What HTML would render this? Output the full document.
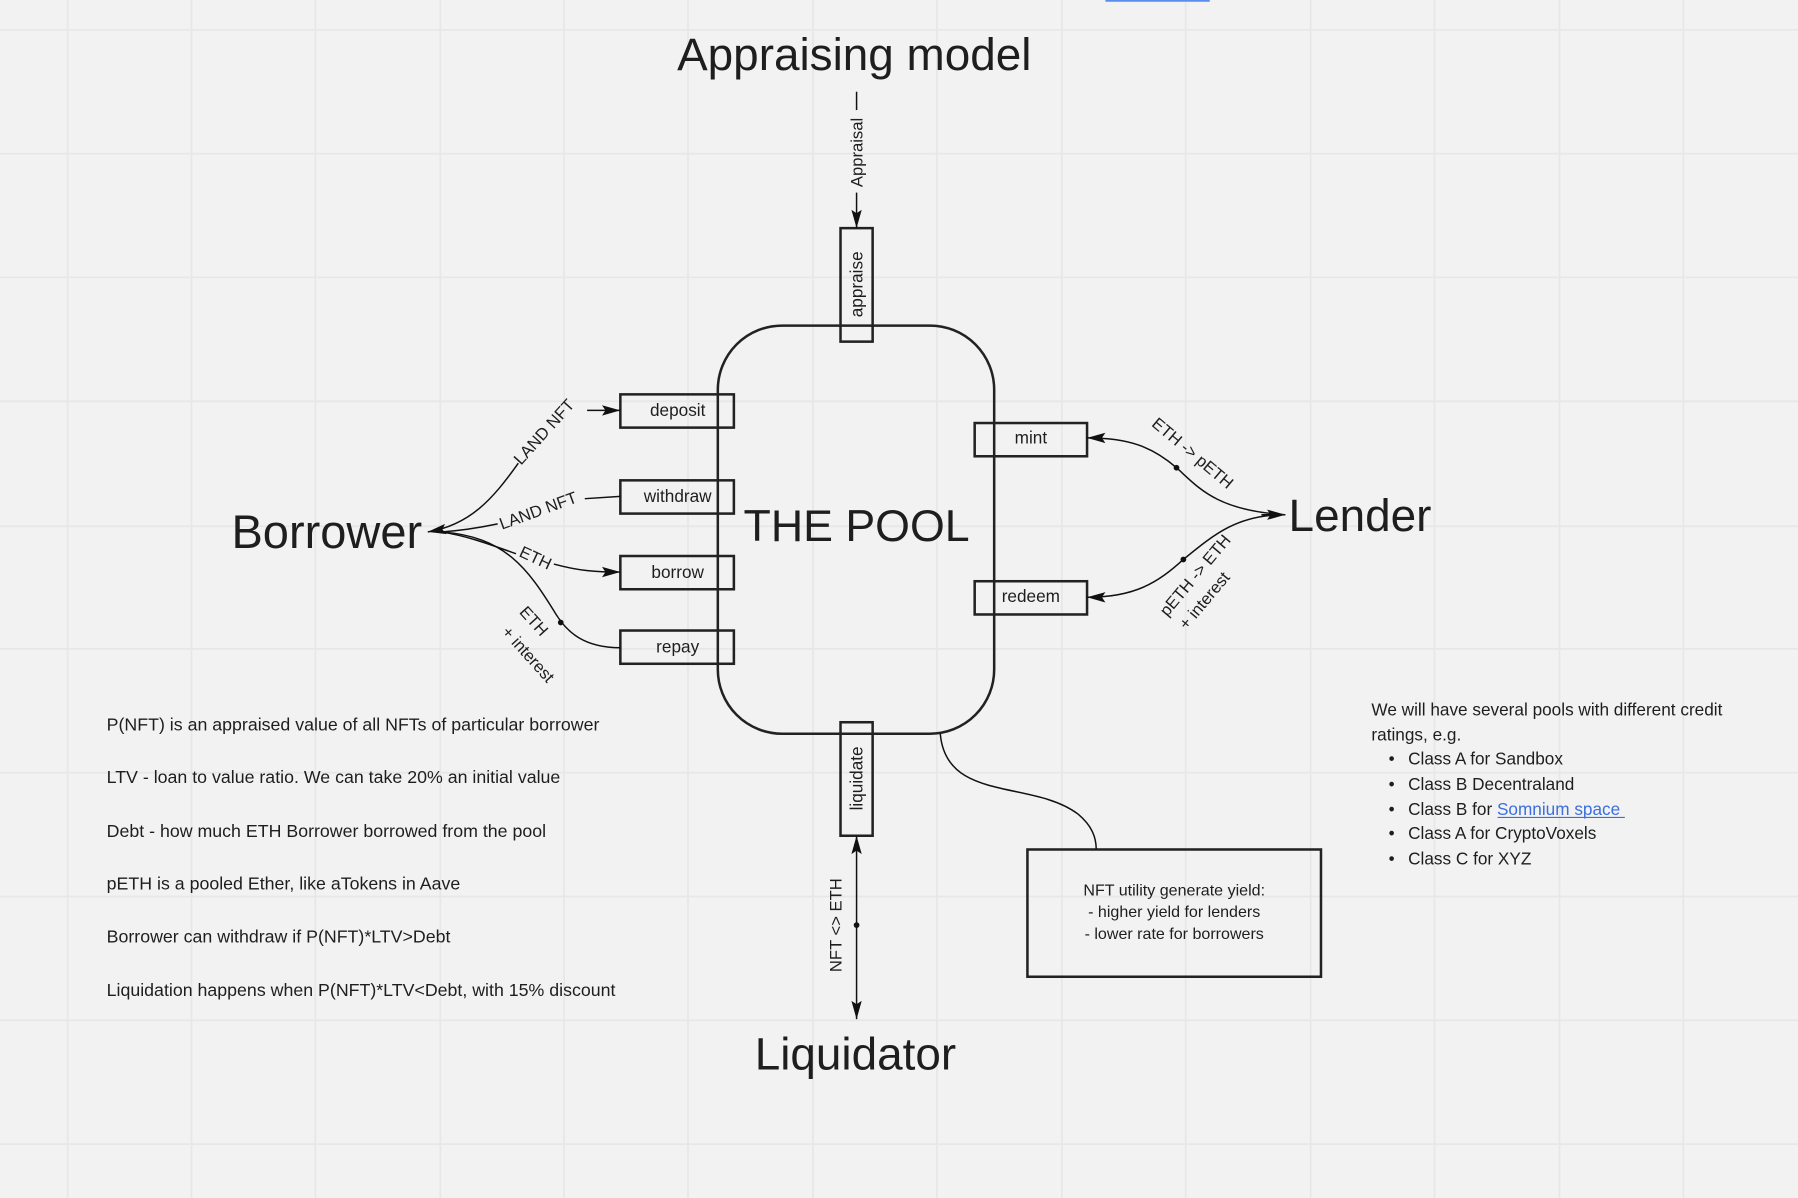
<!DOCTYPE html>
<html><head><meta charset="utf-8"><style>
html,body{margin:0;padding:0;background:#f2f2f2;}
svg{display:block;}
text{font-family:"Liberation Sans",sans-serif;fill:#1e1e1e;}
</style></head><body>
<svg width="1798" height="1198" viewBox="0 0 1568 1045" preserveAspectRatio="none" xmlns="http://www.w3.org/2000/svg">
<defs>
<marker id="a" viewBox="0 0 16 10" refX="16" refY="5" markerWidth="16" markerHeight="10" orient="auto-start-reverse" markerUnits="userSpaceOnUse"><path d="M0,0.5 L16,5 L0,9.5 L3,5 z" fill="#111"/></marker>
</defs>
<rect width="1568" height="1045" fill="#f2f2f2"/>
<g stroke="#e7e7e7" stroke-width="1.5">
<line x1="59" y1="0" x2="59" y2="1045"/><line x1="167" y1="0" x2="167" y2="1045"/><line x1="275" y1="0" x2="275" y2="1045"/><line x1="384" y1="0" x2="384" y2="1045"/><line x1="492" y1="0" x2="492" y2="1045"/><line x1="600" y1="0" x2="600" y2="1045"/><line x1="709" y1="0" x2="709" y2="1045"/><line x1="817" y1="0" x2="817" y2="1045"/><line x1="926" y1="0" x2="926" y2="1045"/><line x1="1034" y1="0" x2="1034" y2="1045"/><line x1="1143" y1="0" x2="1143" y2="1045"/><line x1="1251" y1="0" x2="1251" y2="1045"/><line x1="1360" y1="0" x2="1360" y2="1045"/><line x1="1468" y1="0" x2="1468" y2="1045"/>
<line x1="0" y1="26" x2="1568" y2="26"/><line x1="0" y1="134" x2="1568" y2="134"/><line x1="0" y1="242" x2="1568" y2="242"/><line x1="0" y1="350" x2="1568" y2="350"/><line x1="0" y1="459" x2="1568" y2="459"/><line x1="0" y1="566" x2="1568" y2="566"/><line x1="0" y1="674" x2="1568" y2="674"/><line x1="0" y1="782" x2="1568" y2="782"/><line x1="0" y1="890" x2="1568" y2="890"/><line x1="0" y1="998" x2="1568" y2="998"/>
</g>
<line x1="964" y1="0" x2="1055" y2="0" stroke="#5b8def" stroke-width="3"/>

<text x="745" y="61" font-size="40" text-anchor="middle">Appraising model</text>
<text x="285" y="478" font-size="41" text-anchor="middle">Borrower</text>
<text x="1186" y="463" font-size="40" text-anchor="middle">Lender</text>
<text x="746" y="933" font-size="40" text-anchor="middle">Liquidator</text>
<text x="747" y="472" font-size="39" text-anchor="middle">THE POOL</text>

<g fill="none" stroke="#222" stroke-width="2.2">
<rect x="626" y="284" width="241" height="356" rx="56"/>
<rect x="541" y="344" width="99" height="29"/>
<rect x="541" y="419" width="99" height="29"/>
<rect x="541" y="485" width="99" height="29"/>
<rect x="541" y="550" width="99" height="29"/>
<rect x="850" y="369" width="98" height="29"/>
<rect x="850" y="507" width="98" height="29"/>
<rect x="733" y="199" width="28" height="99"/>
<rect x="733" y="630" width="28" height="99"/>
<rect x="896" y="741" width="256" height="111"/>
</g>
<g font-size="15" text-anchor="middle">
<text x="591" y="363">deposit</text>
<text x="591" y="438">withdraw</text>
<text x="591" y="504">borrow</text>
<text x="591" y="569">repay</text>
<text x="899" y="387">mint</text>
<text x="899" y="525">redeem</text>
<text transform="translate(752,248) rotate(-90)">appraise</text>
<text transform="translate(752,679) rotate(-90)">liquidate</text>
</g>

<g fill="none" stroke="#111" stroke-width="1.3">
<path d="M452 404 C430 435 410 458 373 464" marker-end="url(#a)"/>
<path d="M512 358 L541 358" marker-end="url(#a)"/>
<path d="M541 433 L510 435"/>
<path d="M434 457 C415 461 400 463 385 464"/>
<path d="M385 464 C410 468 430 476 450 483"/>
<path d="M483 492 C505 498 520 499 541 499" marker-end="url(#a)"/>
<path d="M541 565 C510 565 495 552 485 536 C460 495 440 468 385 464"/>
<circle cx="489" cy="543" r="2.5" fill="#111" stroke="none"/>
<path d="M1120 449 C1060 445 1045 425 1026 408 C1005 390 985 382 948 382" marker-end="url(#a)"/>
<path d="M1120 449 C1080 449 1060 465 1032 488 C1010 508 990 521 948 521" marker-end="url(#a)"/>
<path d="M1100 449 L1121 449" marker-end="url(#a)"/>
<circle cx="1026" cy="408" r="2.5" fill="#111" stroke="none"/>
<circle cx="1032" cy="488" r="2.5" fill="#111" stroke="none"/>
<path d="M747 80 L747 96"/>
<path d="M747 168 L747 199" marker-end="url(#a)"/>
<path d="M747 807 L747 729" marker-end="url(#a)"/>
<path d="M747 807 L747 889" marker-end="url(#a)"/>
<circle cx="747" cy="807" r="2.5" fill="#111" stroke="none"/>
<path d="M820 640 C825 700 900 680 940 710 C952 720 956 730 956 741"/>
</g>
<g font-size="14.5">
<text transform="translate(478,380) rotate(-48)" text-anchor="middle">LAND NFT</text>
<text transform="translate(471,450) rotate(-20)" text-anchor="middle">LAND NFT</text>
<text transform="translate(465,491) rotate(25)" text-anchor="middle">ETH</text>
<text transform="translate(462,545) rotate(48)" text-anchor="middle">ETH</text>
<text transform="translate(457,574) rotate(48)" text-anchor="middle">+ interest</text>
<text transform="translate(1037,399) rotate(40)" text-anchor="middle">ETH -&gt; pETH</text>
<text transform="translate(1046,505) rotate(-50)" text-anchor="middle">pETH -&gt; ETH</text>
<text transform="translate(1054,527) rotate(-50)" text-anchor="middle">+ interest</text>
<text transform="translate(752,133) rotate(-90)" text-anchor="middle">Appraisal</text>
<text transform="translate(734,807) rotate(-90)" text-anchor="middle">NFT &lt;&gt; ETH</text>
</g>

<g font-size="14" text-anchor="middle">
<text x="1024" y="781">NFT utility generate yield:</text>
<text x="1024" y="800">- higher yield for lenders</text>
<text x="1024" y="819">- lower rate for borrowers</text>
</g>

<g font-size="15.5">
<text x="93" y="637">P(NFT) is an appraised value of all NFTs of particular borrower</text>
<text x="93" y="683">LTV - loan to value ratio. We can take 20% an initial value</text>
<text x="93" y="730">Debt - how much ETH Borrower borrowed from the pool</text>
<text x="93" y="776">pETH is a pooled Ether, like aTokens in Aave</text>
<text x="93" y="822">Borrower can withdraw if P(NFT)*LTV&gt;Debt</text>
<text x="93" y="869">Liquidation happens when P(NFT)*LTV&lt;Debt, with 15% discount</text>
</g>
<g font-size="15">
<text x="1196" y="624">We will have several pools with different credit</text>
<text x="1196" y="646">ratings, e.g.</text>
<text x="1211" y="667">•</text><text x="1228" y="667">Class A for Sandbox</text>
<text x="1211" y="689">•</text><text x="1228" y="689">Class B Decentraland</text>
<text x="1211" y="711">•</text><text x="1228" y="711">Class B for <tspan fill="#3b6fe0">Somnium space</tspan></text>
<text x="1211" y="732">•</text><text x="1228" y="732">Class A for CryptoVoxels</text>
<text x="1211" y="754">•</text><text x="1228" y="754">Class C for XYZ</text>
</g>
<line x1="1306" y1="713" x2="1417" y2="713" stroke="#3b6fe0" stroke-width="1"/>
</svg>
</body></html>
